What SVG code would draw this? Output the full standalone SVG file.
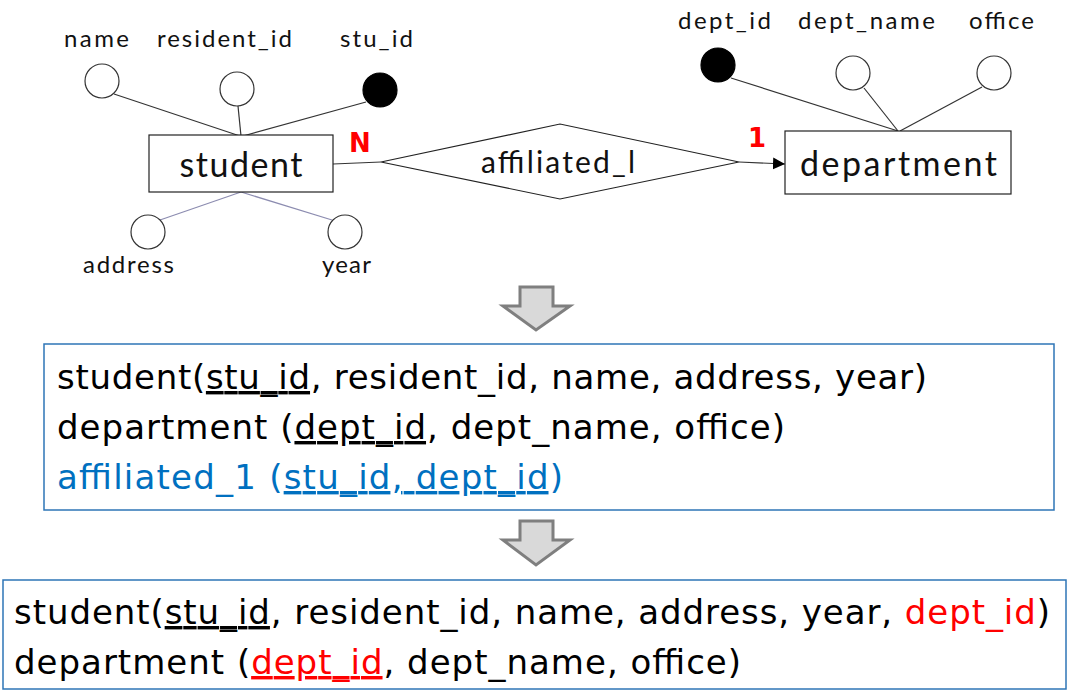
<svg xmlns="http://www.w3.org/2000/svg" width="1081" height="694" viewBox="0 0 1081 694">
<style>
.er{font-family:Lato,"Open Sans","DejaVu Sans",sans-serif;fill:#111;}
.lbl{font-size:24px;text-anchor:middle;}
.ent{font-size:34px;text-anchor:middle;}
.box{fill:#fff;stroke:#222;stroke-width:1.2;}
.att{fill:#fff;stroke:#333;stroke-width:1.2;}
.key{fill:#000;stroke:#000;stroke-width:1.2;}
.ln{stroke:#333;stroke-width:1.2;fill:none;}
.ln2{stroke:#8c8cb0;stroke-width:1.2;fill:none;}
.card{font-family:"DejaVu Sans",sans-serif;font-weight:bold;font-size:26px;fill:#ff0000;}
.rel{font-family:"DejaVu Sans",Verdana,sans-serif;font-size:34px;fill:#000;}
.frame{fill:#fff;stroke:#2e75b6;stroke-width:1.5;}
.down{fill:#d9d9d9;stroke:#7f7f7f;stroke-width:3;stroke-linejoin:miter;}
</style>
<defs>
<marker id="arr" viewBox="0 0 10 10" refX="10" refY="5" markerWidth="12" markerHeight="12" markerUnits="userSpaceOnUse" orient="auto">
<path d="M0,0 L10,5 L0,10 z" fill="#000"/>
</marker>
</defs>
<g id="connectors">
<line class="ln" x1="114" y1="94" x2="240" y2="136"/>
<line class="ln" x1="238" y1="106" x2="241" y2="136"/>
<line class="ln" x1="366" y1="102" x2="243" y2="136"/>
<line class="ln2" x1="241" y1="192" x2="160" y2="220"/>
<line class="ln2" x1="241" y1="192" x2="332" y2="220"/>
<line class="ln" x1="333" y1="164" x2="381" y2="162"/>
<line class="ln" x1="739" y1="162" x2="785" y2="164" marker-end="url(#arr)"/>
<line class="ln" x1="731" y1="78" x2="898" y2="131"/>
<line class="ln" x1="864" y1="88" x2="898" y2="131"/>
<line class="ln" x1="982" y1="87" x2="900" y2="131"/>
</g>
<g id="student">
<rect class="box" x="149" y="135" width="184" height="57"/>
<text class="er ent" x="241" y="177" textLength="123">student</text>
</g>
<g id="attr-name">
<circle class="att" cx="102" cy="81" r="17"/>
<text class="er lbl" x="96.5" y="47" textLength="65">name</text>
</g>
<g id="attr-resident_id">
<circle class="att" cx="237" cy="89" r="17"/>
<text class="er lbl" x="224.5" y="47" textLength="135">resident_id</text>
</g>
<g id="attr-stu_id">
<circle class="key" cx="380" cy="90" r="17"/>
<text class="er lbl" x="376.5" y="47" textLength="73">stu_id</text>
</g>
<g id="attr-address">
<circle class="att" cx="148" cy="232" r="17"/>
<text class="er lbl" x="128.5" y="273" textLength="91">address</text>
</g>
<g id="attr-year">
<circle class="att" cx="345" cy="232" r="17"/>
<text class="er lbl" x="346.5" y="273" textLength="49">year</text>
</g>
<g id="affiliated">
<polygon class="box" points="381,162 560,124 739,162 560,199"/>
<text class="er" x="558" y="173" font-size="30" text-anchor="middle" textLength="154">affiliated_l</text>
</g>
<g id="cardinalities">
<text class="card" x="349" y="152">N</text>
<text class="card" x="748" y="147">1</text>
</g>
<g id="department">
<rect class="box" x="785" y="131" width="226" height="63"/>
<text class="er ent" x="898.5" y="176" textLength="197">department</text>
</g>
<g id="attr-dept_id">
<circle class="key" cx="718" cy="65" r="17"/>
<text class="er lbl" x="724.5" y="29" textLength="93">dept_id</text>
</g>
<g id="attr-dept_name">
<circle class="att" cx="853" cy="73" r="17"/>
<text class="er lbl" x="866.5" y="29" textLength="137">dept_name</text>
</g>
<g id="attr-office">
<circle class="att" cx="994" cy="73" r="17"/>
<text class="er lbl" x="1001.5" y="29" textLength="65">office</text>
</g>
<g id="arrow1">
<polygon class="down" points="520,287 553,287 553,306 570,306 536,330 503,306 520,306"/>
</g>
<g id="relations1">
<rect class="frame" x="44" y="344" width="1010" height="166"/>
<text class="rel" x="57" y="389" textLength="870">student(<tspan text-decoration="underline">stu_id</tspan>, resident_id, name, address, year)</text>
<text class="rel" x="57" y="439" textLength="728">department (<tspan text-decoration="underline">dept_id</tspan>, dept_name, office)</text>
<text class="rel" x="57" y="489" textLength="506" style="fill:#0070c0">affiliated_1 (<tspan text-decoration="underline">stu_id, dept_id</tspan>)</text>
</g>
<g id="arrow2">
<polygon class="down" points="520,521 553,521 553,540 570,540 536,565 503,540 520,540"/>
</g>
<g id="relations2">
<rect class="frame" x="3" y="580" width="1063" height="109"/>
<text class="rel" x="14" y="624" textLength="1036">student(<tspan text-decoration="underline">stu_id</tspan>, resident_id, name, address, year, <tspan style="fill:#ff0000">dept_id</tspan>)</text>
<text class="rel" x="14" y="674" textLength="727">department (<tspan text-decoration="underline" style="fill:#ff0000">dept_id</tspan>, dept_name, office)</text>
</g>
</svg>
